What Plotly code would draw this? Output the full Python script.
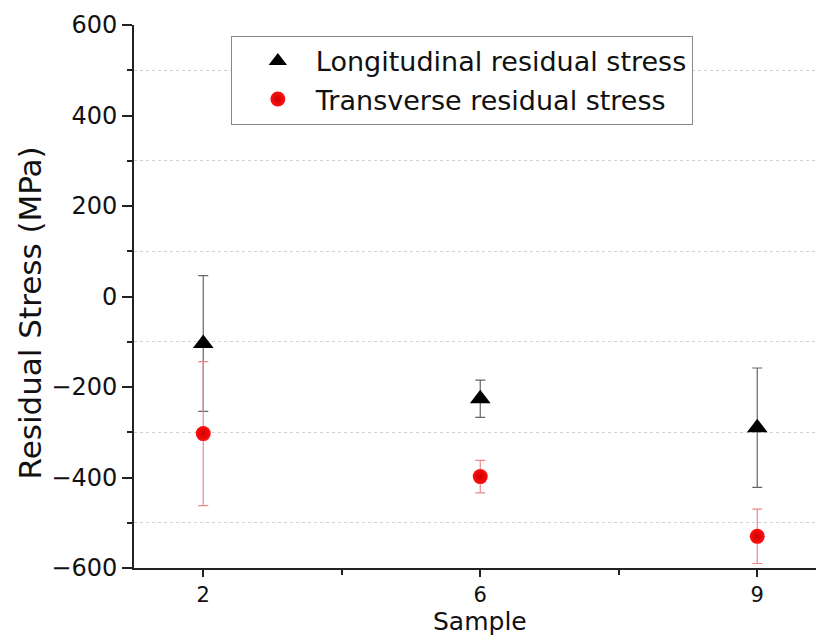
import plotly.graph_objects as go

samples = ["2", "6", "9"]
long_vals = [-104, -226, -290]
long_err = [150, 41, 132]
trans_vals = [-303, -398, -530]
trans_err = [159, 36, 60]

y_ticks = [-600, -400, -200, 0, 200, 400, 600]
y_tick_text = ["\u2212600", "\u2212400", "\u2212200", "0", "200", "400", "600"]

xpos = list(range(len(samples)))
FONT = "DejaVu Sans"

fig = go.Figure()
fig.add_trace(go.Scatter(
    x=xpos, y=long_vals, mode="markers", name="Longitudinal residual stress",
    legendgroup="a",
    marker=dict(symbol="triangle-up", size=18, color="black"),
    error_y=dict(type="data", array=long_err, visible=True, color="#666666",
                 thickness=1.2, width=5),
))
fig.add_trace(go.Scatter(
    x=xpos, y=trans_vals, mode="markers", name="Transverse residual stress",
    legendgroup="b",
    marker=dict(symbol="circle", size=15, color="#ff1010",
                gradient=dict(type="radial", color="#d00000"),
                line=dict(width=0)),
    error_y=dict(type="data", array=trans_err, visible=True, color="#ee8888",
                 thickness=1.2, width=5),
))

fig.add_annotation(
    text="Residual Stress (MPa)", textangle=-90, showarrow=False,
    xref="paper", yref="paper", x=-0.153, y=0.47, xanchor="center", yanchor="middle",
    font=dict(family=FONT, size=31, color="#111111"),
)
fig.add_annotation(
    text="Sample", showarrow=False, borderpad=0,
    xref="paper", yref="paper", x=0.508, y=-69 / 543, xanchor="center", yanchor="bottom",
    font=dict(family=FONT, size=25, color="#111111"),
)

fig.update_layout(
    width=816, height=637,
    margin=dict(l=134, r=0, t=25, b=69),
    paper_bgcolor="white", plot_bgcolor="white",
    font=dict(family=FONT, size=24, color="#111111"),
    showlegend=True,
    legend=dict(
        x=0.142, y=0.98, xanchor="left", yanchor="top",
        bordercolor="#888888", borderwidth=1, bgcolor="white",
        font=dict(family=FONT, size=27, color="#111111"),
        traceorder="grouped", tracegroupgap=0, indentation=8, itemwidth=66,
    ),
    xaxis=dict(
        range=[-0.25, -0.25 + 682 / 277],
        tickmode="array", tickvals=xpos, ticktext=samples,
        tickfont=dict(size=21),
        showgrid=False, zeroline=False,
        showline=True, linecolor="#222222", linewidth=2,
        ticks="outside", ticklen=7, tickwidth=2, tickcolor="#222222",
        minor=dict(tick0=0.5, dtick=1, ticks="outside", ticklen=5, tickwidth=2,
                   tickcolor="#222222", showgrid=False),
        fixedrange=True,
    ),
    yaxis=dict(
        range=[-600, 600],
        tickmode="array", tickvals=y_ticks, ticktext=y_tick_text,
        showgrid=False, zeroline=False,
        showline=True, linecolor="#222222", linewidth=2,
        ticks="outside", ticklen=10, tickwidth=2, tickcolor="#222222",
        minor=dict(tick0=100, dtick=200, ticks="outside", ticklen=5, tickwidth=2,
                   tickcolor="#222222", showgrid=True, gridcolor="#d0d0d0",
                   griddash="dot", gridwidth=1),
        fixedrange=True,
    ),
)

fig.write_html("out.html")
